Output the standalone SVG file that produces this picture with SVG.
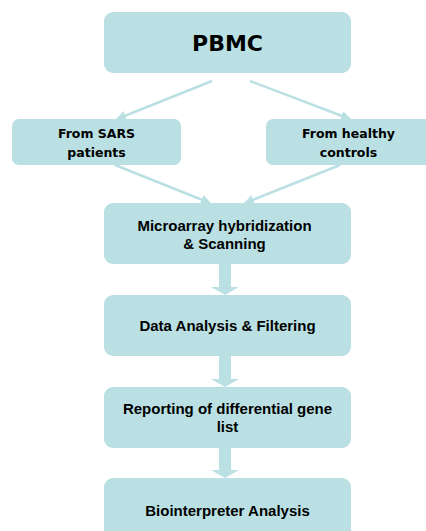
<svg xmlns="http://www.w3.org/2000/svg" width="426" height="531" viewBox="0 0 426 531">
<style>
.box{fill:#bae0e3;}
.t1{font-family:"DejaVu Sans",Verdana,sans-serif;font-weight:bold;fill:#000;text-anchor:middle;}
.t2{font-family:"Liberation Sans",Arial,sans-serif;font-weight:bold;font-size:15px;fill:#000;text-anchor:middle;}
.ln{stroke:#bae0e3;stroke-width:2.5;fill:none;marker-end:url(#ah);}
.blk{fill:#bae0e3;}
</style>
<defs>
<marker id="ah" viewBox="0 0 10 10" refX="9" refY="5" markerWidth="4" markerHeight="4" orient="auto" markerUnits="strokeWidth">
<path d="M0,0 L10,5 L0,10 z" fill="#bae0e3"/>
</marker>
</defs>
<rect width="426" height="531" fill="#fff"/>
<g id="connectors">
<line class="ln" x1="212" y1="81" x2="117" y2="119"/>
<line class="ln" x1="250" y1="81" x2="350" y2="119"/>
<line class="ln" x1="115" y1="165" x2="210" y2="203"/>
<line class="ln" x1="340" y1="165" x2="245" y2="203"/>
<path class="blk" d="M219,264 H231 V287 H239 L225,295 L211,287 H219 Z"/>
<path class="blk" d="M219,356 H231 V379 H239 L225,387 L211,379 H219 Z"/>
<path class="blk" d="M219,448 H231 V470 H239 L225,478 L211,470 H219 Z"/>
</g>
<g id="pbmc">
<rect class="box" x="104" y="12" width="247" height="61" rx="9"/>
<text class="t1" x="227.5" y="51" font-size="22">PBMC</text>
</g>
<g id="sars">
<rect class="box" x="12" y="119" width="169" height="46" rx="7"/>
<text class="t1" x="96.5" y="138" font-size="12.5">From SARS</text>
<text class="t1" x="96.5" y="157" font-size="12.5">patients</text>
</g>
<g id="healthy">
<rect class="box" x="266" y="119" width="170" height="46" rx="7"/>
<text class="t1" x="348.5" y="138" font-size="12.5">From healthy</text>
<text class="t1" x="348.5" y="157" font-size="12.5">controls</text>
</g>
<g id="microarray">
<rect class="box" x="104" y="203" width="247" height="61" rx="9"/>
<text class="t2" x="224.5" y="231">Microarray hybridization</text>
<text class="t2" x="224.5" y="249">&amp; Scanning</text>
</g>
<g id="data">
<rect class="box" x="104" y="295" width="247" height="61" rx="9"/>
<text class="t2" x="227.5" y="331">Data Analysis &amp; Filtering</text>
</g>
<g id="reporting">
<rect class="box" x="104" y="387" width="247" height="61" rx="9"/>
<text class="t2" x="227.5" y="414">Reporting of differential gene</text>
<text class="t2" x="227.5" y="432">list</text>
</g>
<g id="bio">
<rect class="box" x="104" y="478" width="247" height="70" rx="9"/>
<text class="t2" x="227.5" y="516">Biointerpreter Analysis</text>
</g>
</svg>
